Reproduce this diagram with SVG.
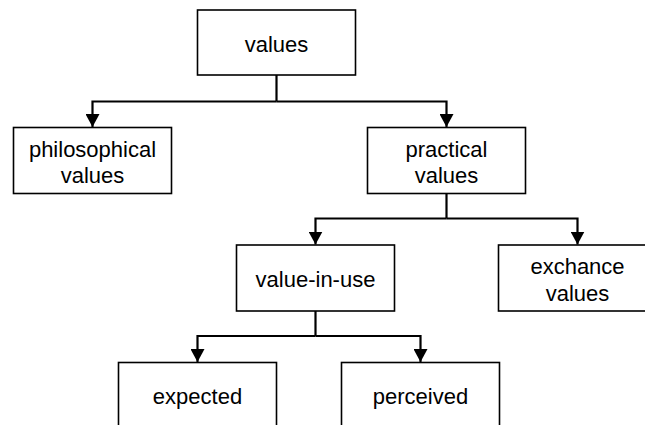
<svg xmlns="http://www.w3.org/2000/svg" width="645" height="425" viewBox="0 0 645 425">
<defs>
<style>
.box{fill:#fff;stroke:#000;stroke-width:1.6}
.lbl{font-family:"Liberation Sans",Arial,sans-serif;font-size:22px;fill:#000;text-anchor:middle}
.conn{fill:none;stroke:#000;stroke-width:2.2}
</style>
<marker id="arr" markerUnits="userSpaceOnUse" markerWidth="14" markerHeight="14" refX="12" refY="6.5" orient="auto" viewBox="0 0 13 13">
<path d="M0,0 L12,6.5 L0,13 Z" fill="#000"/>
</marker>
</defs>
<rect width="645" height="425" fill="#fff"/>
<g id="connectors">
<path class="conn" d="M276.5,75 V101.5"/>
<path class="conn" d="M276.5,101.5 H92.5 V127" marker-end="url(#arr)"/>
<path class="conn" d="M276.5,101.5 H446.5 V127" marker-end="url(#arr)"/>
<path class="conn" d="M446.5,193.5 V218.5"/>
<path class="conn" d="M446.5,218.5 H315.5 V244.5" marker-end="url(#arr)"/>
<path class="conn" d="M446.5,218.5 H577.5 V244.5" marker-end="url(#arr)"/>
<path class="conn" d="M315.5,311 V336"/>
<path class="conn" d="M315.5,336 H197.5 V362" marker-end="url(#arr)"/>
<path class="conn" d="M315.5,336 H420.5 V362" marker-end="url(#arr)"/>
</g>
<g id="values">
<rect class="box" x="197.5" y="10" width="158" height="65"/>
<text class="lbl" x="276.5" y="51.7">values</text>
</g>
<g id="philosophical">
<rect class="box" x="13.5" y="127.5" width="158" height="66"/>
<text class="lbl" x="92.5" y="156.7">philosophical</text>
<text class="lbl" x="92.5" y="182.7">values</text>
</g>
<g id="practical">
<rect class="box" x="367.5" y="127.5" width="158" height="66"/>
<text class="lbl" x="446.5" y="156.7">practical</text>
<text class="lbl" x="446.5" y="182.7">values</text>
</g>
<g id="value-in-use">
<rect class="box" x="236.5" y="245" width="158" height="66"/>
<text class="lbl" x="315.5" y="286.7">value-in-use</text>
</g>
<g id="exchance">
<rect class="box" x="498.5" y="245" width="158" height="66"/>
<text class="lbl" x="577.5" y="273.5">exchance</text>
<text class="lbl" x="577.5" y="300.7">values</text>
</g>
<g id="expected">
<rect class="box" x="118.5" y="362.5" width="158" height="80"/>
<text class="lbl" x="197.5" y="403.5">expected</text>
</g>
<g id="perceived">
<rect class="box" x="341.5" y="362.5" width="158" height="80"/>
<text class="lbl" x="420.5" y="403.5">perceived</text>
</g>
</svg>
